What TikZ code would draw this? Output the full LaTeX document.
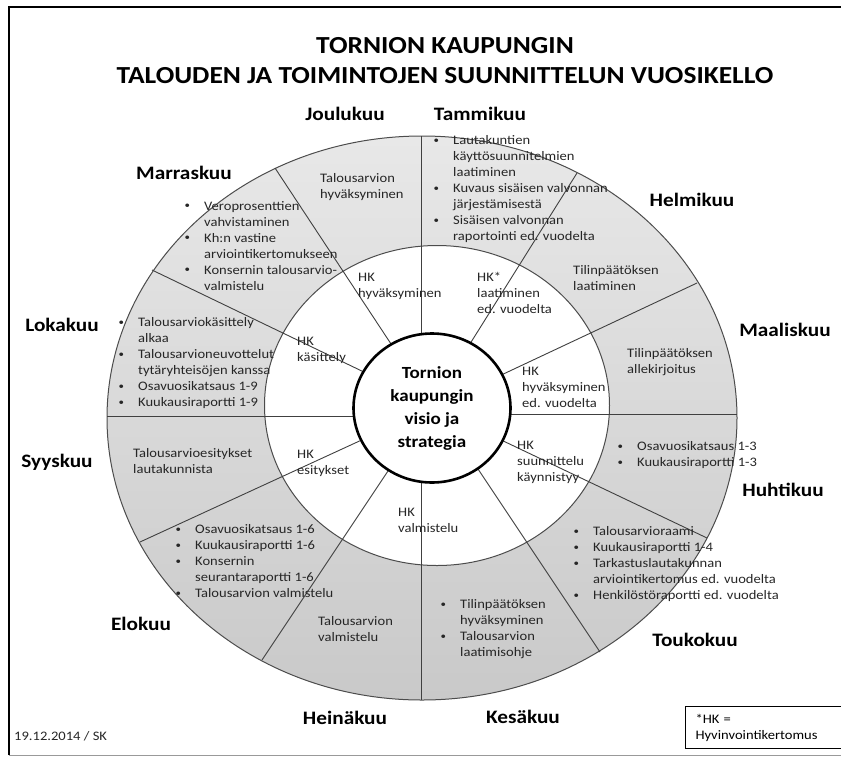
\documentclass[tikz,border=0pt]{standalone}
\usepackage{fontspec}
\setmainfont{Carlito}[FakeStretch=1.12]
\usetikzlibrary{shapes.geometric}

\definecolor{ringtop}{HTML}{E8E8E8}
\definecolor{ringbot}{HTML}{C9C9C9}
\newcommand{\bul}{\makebox[20pt][l]{\hspace{0.5pt}\raisebox{1.2pt}{\scalebox{0.75}{\textbullet}}}}
\newcommand{\nob}{\hspace*{20pt}}

\begin{document}
\begin{tikzpicture}[x=1pt,y=-1pt,
    month/.style={font=\fontsize{19}{22}\selectfont\bfseries,anchor=base,inner sep=0pt},
    txt/.style={font=\fontsize{13}{16}\selectfont,text=black!85,align=left,anchor=north west,inner sep=0pt},
    spoke/.style={draw=black!75,line width=0.9pt}]

    \useasboundingbox (0,0) rectangle (841,756);

    % --------------------------------------------------------- %
    % ------------- frame and title
    % --------------------------------------------------------- %
    \draw[line width=1.2pt] (9,755) -- (9,7) -- (850,7);
    \draw[black!40,line width=1pt] (9,755) -- (850,755);

    \node[font=\fontsize{24.5}{28}\selectfont\bfseries,anchor=base] (titre1) at (445,53) {TORNION KAUPUNGIN};
    \node[font=\fontsize{24.5}{28}\selectfont\bfseries,anchor=base] (titre2) at (445,83) {TALOUDEN JA TOIMINTOJEN SUUNNITTELUN VUOSIKELLO};

    % --------------------------------------------------------- %
    % ------------- rings
    % --------------------------------------------------------- %
    \shadedraw[top color=ringtop,bottom color=ringbot,draw=black!70,line width=1pt] (422,418) ellipse [x radius=315pt,y radius=282pt];
    \draw[fill=white,draw=black!70,line width=1pt] (437,405.5) ellipse [x radius=172.5pt,y radius=160pt];

    % --------------------------------------------------------- %
    % ------------- spokes between the months
    % --------------------------------------------------------- %
    \coordinate (in1) at (421,345);   \coordinate (out1) at (421,136);
    \coordinate (in2) at (395,350);   \coordinate (out2) at (275,168);
    \coordinate (in3) at (368,374);   \coordinate (out3) at (152,270);
    \coordinate (in4) at (362,416);   \coordinate (out4) at (107,416);
    \coordinate (in5) at (366,438);   \coordinate (out5) at (140,542);
    \coordinate (in6) at (392,465);   \coordinate (out6) at (262,660);
    \coordinate (in7) at (421,475);   \coordinate (out7) at (421,700);
    \coordinate (in8) at (474,463);   \coordinate (out8) at (600,652);
    \coordinate (in9) at (497,438);   \coordinate (out9) at (707,538);
    \coordinate (in10) at (505,414);  \coordinate (out10) at (737,414);
    \coordinate (in11) at (497,377);  \coordinate (out11) at (697,283);
    \coordinate (in12) at (468,347);  \coordinate (out12) at (577,173);

    \draw[spoke] (in1) -- (out1);
    \draw[spoke] (in2) -- (out2);
    \draw[spoke] (in3) -- (out3);
    \draw[spoke] (in4) -- (out4);
    \draw[spoke] (in5) -- (out5);
    \draw[spoke] (in6) -- (out6);
    \draw[spoke] (in7) -- (out7);
    \draw[spoke] (in8) -- (out8);
    \draw[spoke] (in9) -- (out9);
    \draw[spoke] (in10) -- (out10);
    \draw[spoke] (in11) -- (out11);
    \draw[spoke] (in12) -- (out12);

    % --------------------------------------------------------- %
    % ------------- principal node (vision)
    % --------------------------------------------------------- %
    \node[ellipse,draw,line width=2.6pt,fill=white,minimum width=157pt,minimum height=149pt,
          font=\fontsize{17}{23}\selectfont\bfseries,align=center] (visio) at (432,408) {Tornion\\kaupungin\\visio ja\\strategia};

    % --------------------------------------------------------- %
    % ------------- months
    % --------------------------------------------------------- %
    \node[month] (joulu) at (345,120) {Joulukuu};
    \node[month] (tammi) at (480,120) {Tammikuu};
    \node[month] (marras) at (184,179) {Marraskuu};
    \node[month] (helmi) at (692,206) {Helmikuu};
    \node[month] (loka) at (62,331) {Lokakuu};
    \node[month] (maalis) at (785,336) {Maaliskuu};
    \node[month] (syys) at (57,467) {Syyskuu};
    \node[month] (huhti) at (783,496) {Huhtikuu};
    \node[month] (elo) at (141,630) {Elokuu};
    \node[month] (touko) at (695,646) {Toukokuu};
    \node[month] (heina) at (345,724) {Heinäkuu};
    \node[month] (kesa) at (523,723) {Kesäkuu};

    % --------------------------------------------------------- %
    % ------------- outer ring
    % --------------------------------------------------------- %
    \node[txt] (tammiT) at (433,135) {\bul Lautakuntien\\\nob käyttösuunnitelmien\\\nob laatiminen\\\bul Kuvaus sisäisen valvonnan\\\nob järjestämisestä\\\bul Sisäisen valvonnan\\\nob raportointi ed. vuodelta};
    \node[txt] (helmiT) at (573,265) {Tilinpäätöksen\\laatiminen};
    \node[txt] (maalisT) at (627,348) {Tilinpäätöksen\\allekirjoitus};
    \node[txt] (huhtiT) at (617,441) {\bul Osavuosikatsaus 1-3\\\bul Kuukausiraportti 1-3};
    \node[txt] (toukoT) at (573,526) {\bul Talousarvioraami\\\bul Kuukausiraportti 1-4\\\bul Tarkastuslautakunnan\\\nob arviointikertomus ed. vuodelta\\\bul Henkilöstöraportti ed. vuodelta};
    \node[txt] (kesaT) at (440,599) {\bul Tilinpäätöksen\\\nob hyväksyminen\\\bul Talousarvion\\\nob laatimisohje};
    \node[txt] (heinaT) at (318,616) {Talousarvion\\valmistelu};
    \node[txt] (eloT) at (175,524) {\bul Osavuosikatsaus 1-6\\\bul Kuukausiraportti 1-6\\\bul Konsernin\\\nob seurantaraportti 1-6\\\bul Talousarvion valmistelu};
    \node[txt] (syysT) at (133,448) {Talousarvioesitykset\\lautakunnista};
    \node[txt] (lokaT) at (118,317) {\bul Talousarviokäsittely\\\nob alkaa\\\bul Talousarvioneuvottelut\\\nob tytäryhteisöjen kanssa\\\bul Osavuosikatsaus 1-9\\\bul Kuukausiraportti 1-9};
    \node[txt] (marrasT) at (184,201) {\bul Veroprosenttien\\\nob vahvistaminen\\\bul Kh:n vastine\\\nob arviointikertomukseen\\\bul Konsernin talousarvio-\\\nob valmistelu};
    \node[txt] (jouluT) at (320,173) {Talousarvion\\hyväksyminen};

    % --------------------------------------------------------- %
    % ------------- middle ring (HK)
    % --------------------------------------------------------- %
    \node[txt] (jouluHK) at (358,273) {HK\\hyväksyminen};
    \node[txt] (tammiHK) at (477,272) {HK*\\laatiminen\\ed. vuodelta};
    \node[txt] (maalisHK) at (522,367) {HK\\hyväksyminen\\ed. vuodelta};
    \node[txt] (huhtiHK) at (517,441) {HK\\suunnittelu\\käynnistyy};
    \node[txt] (heinaHK) at (398,508) {HK\\valmistelu};
    \node[txt] (syysHK) at (297,450) {HK\\esitykset};
    \node[txt] (lokaHK) at (297,337) {HK\\käsittely};

    % --------------------------------------------------------- %
    % ------------- legend and date
    % --------------------------------------------------------- %
    \node[draw,line width=1pt,anchor=north west,align=left,font=\fontsize{13}{16}\selectfont,
          text width=140pt,inner xsep=10pt,inner ysep=5pt,minimum height=42pt] (selite) at (685,706) {*HK =\\Hyvinvointikertomus};
    \node[txt] (pvm) at (14,731) {19.12.2014 / SK};

\end{tikzpicture}
\end{document}
